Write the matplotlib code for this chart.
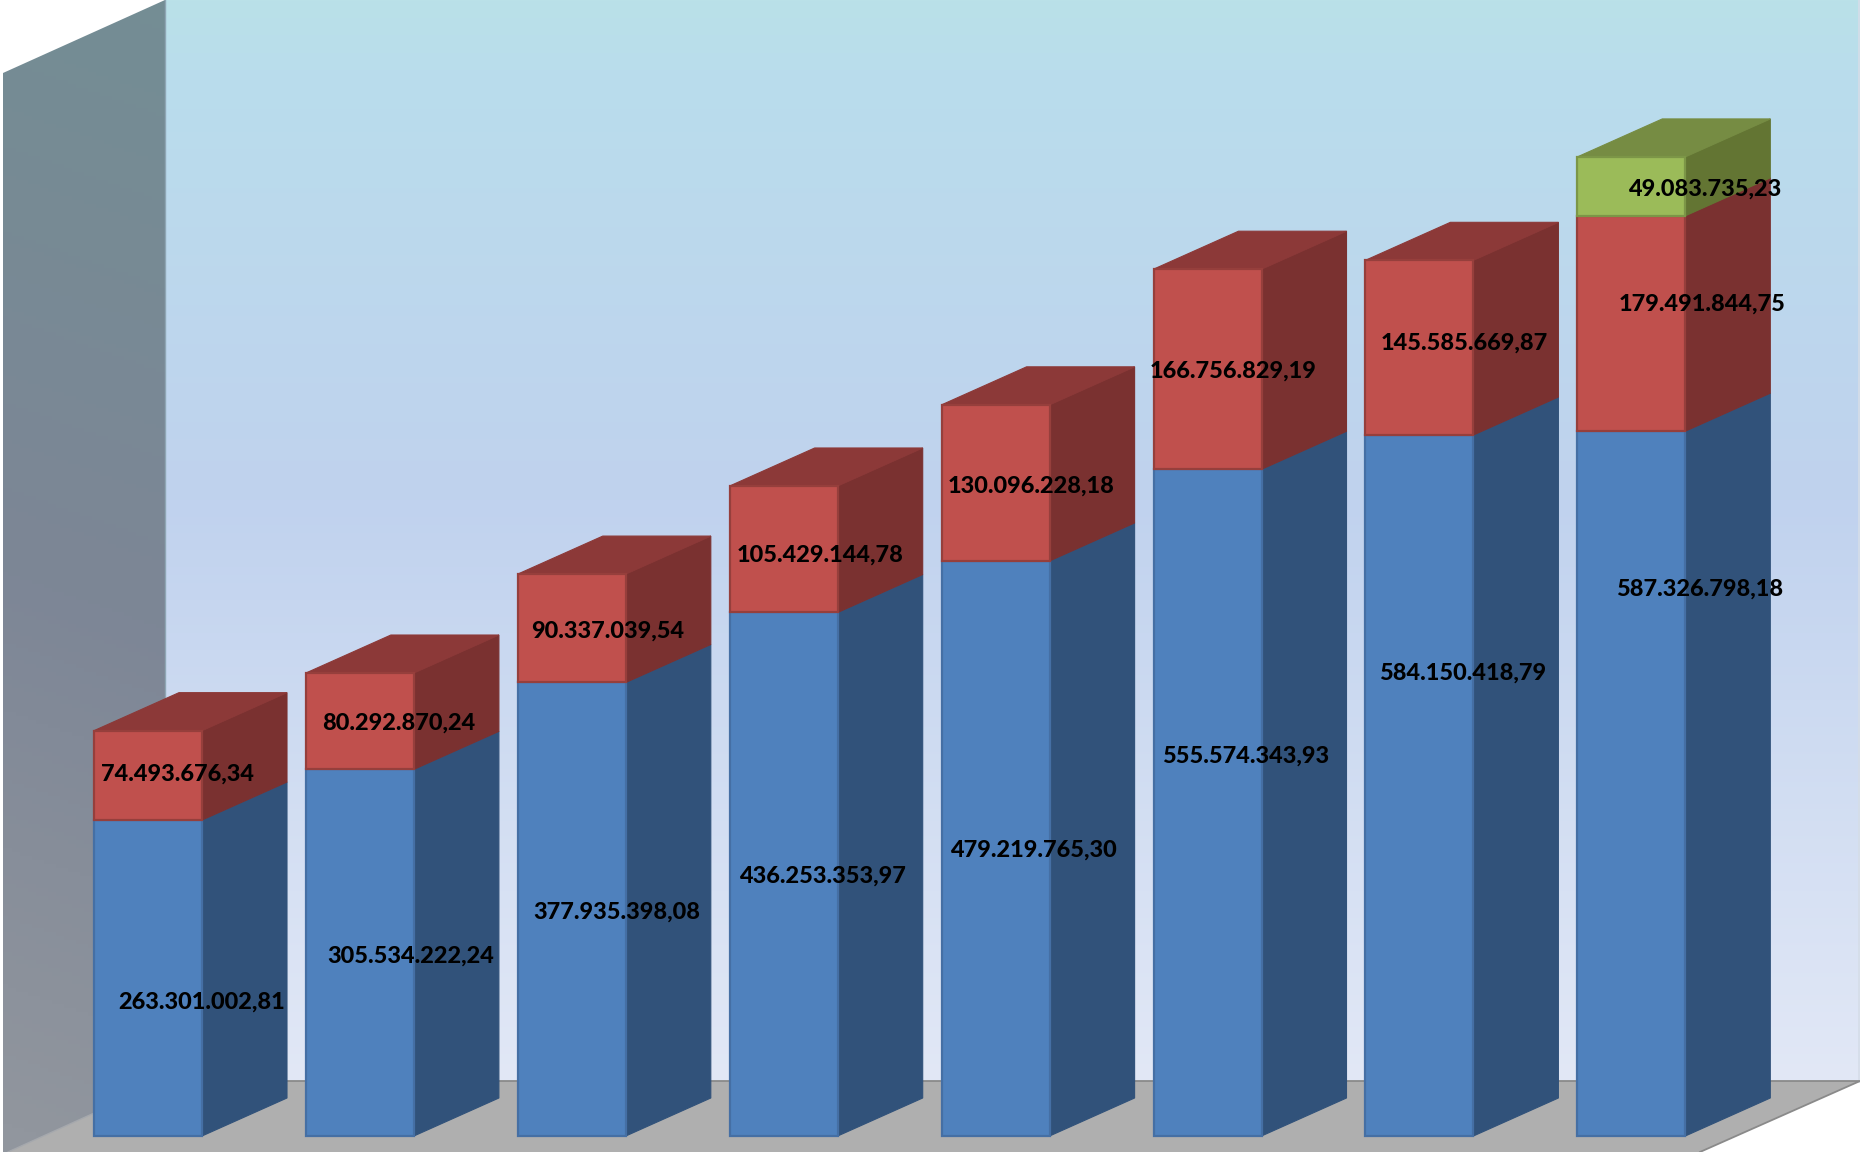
import numpy as np
import matplotlib
matplotlib.use("Agg")
import matplotlib.pyplot as plt
from matplotlib.patches import Polygon
import matplotlib.patheffects as pe

# ---- data (values as printed on the chart) ----
blue_values = [263301002.81, 305534222.24, 377935398.08, 436253353.97,
               479219765.30, 555574343.93, 584150418.79, 587326798.18]
red_values = [74493676.34, 80292870.24, 90337039.54, 105429144.78,
              130096228.18, 166756829.19, 145585669.87, 179491844.75]
green_values = [0, 0, 0, 0, 0, 0, 0, 49083735.23]

blue_labels = ["263.301.002,81", "305.534.222,24", "377.935.398,08", "436.253.353,97",
               "479.219.765,30", "555.574.343,93", "584.150.418,79", "587.326.798,18"]
red_labels = ["74.493.676,34", "80.292.870,24", "90.337.039,54", "105.429.144,78",
              "130.096.228,18", "166.756.829,19", "145.585.669,87", "179.491.844,75"]
green_labels = ["", "", "", "", "", "", "", "49.083.735,23"]

# ---- label placement offsets from segment centre, in pixels (image-down dy) ----
blue_off = [(53.7, 22), (50.5, 1), (45, 0.6), (38.3, 0), (37.6, -0.4), (38, -48.3), (43.2, -114), (68.5, -196.4)]
red_off = [(29.9, -3.1), (38.7, 0), (35.5, 0.4), (36, 3.6), (35.2, 1.1), (26.1, -0.4), (44.4, -6.1), (70.9, -21)]
green_off = [(0, 0)] * 7 + [(73.3, 1)]

# ---- layout ----
W, H = 1860, 1152
STEP = 211.9        # px between bars
C0 = 148.0          # px centre of first bar
Y0 = 1136.0         # px baseline
PX_PER_VAL = 1.2e-6 # px per unit
BAR_W = 108 / STEP
DEPTH_X = 85 / STEP
DEPTH_Y = 38 / PX_PER_VAL

fig = plt.figure(figsize=(W / 100, H / 100), dpi=100, facecolor="white")
ax = fig.add_axes([0, 0, 1, 1])
ax.set_xlim(-C0 / STEP, (W - C0) / STEP)
ax.set_ylim(-(H - Y0) / PX_PER_VAL, Y0 / PX_PER_VAL)
ax.axis("off")


def frac(pts):
    return [(x / W, 1 - y / H) for x, y in pts]


def grad(ys, cols, n=H):
    t = np.linspace(0, H, n)
    return np.stack([np.interp(t, ys, [c[i] for c in cols]) / 255 for i in range(3)], axis=-1)


# back wall
back_poly = Polygon(frac([(165, 0), (1860, 0), (1860, 1082), (165, 1082)]),
                    transform=ax.transAxes, fc="none", ec="none")
ax.add_patch(back_poly)
g = grad([0, 70, 500, 700, 1082, 1152],
         [(186, 225, 232), (185, 221, 236), (192, 210, 238), (204, 218, 241), (226, 232, 246), (226, 232, 246)])
im = ax.imshow(g[:, None, :], extent=(0, 1, 0, 1), transform=ax.transAxes, aspect="auto", zorder=1)
im.set_clip_path(back_poly)
ax.plot([1859 / W] * 2, [1 - 1082 / H, 1], transform=ax.transAxes, color="#d5dde8", lw=1.2, zorder=1.1)

# left wall (diagonal gradient)
left_pts = [(3, 73), (165, 0), (165, 1082), (8, 1152), (3, 1152)]
left_poly = Polygon(frac(left_pts), transform=ax.transAxes, fc="none", ec="none")
ax.add_patch(left_poly)
yy, xx = np.mgrid[0:H:288j, 0:W:465j]
tt = yy - 0.35 * (xx - 80)
stops = [0, 600, 1152]
cols = [(116, 141, 148), (125, 134, 150), (145, 150, 158)]
g2 = np.stack([np.interp(tt, stops, [c[i] for c in cols]) / 255 for i in range(3)], axis=-1)
im2 = ax.imshow(g2, extent=(0, 1, 0, 1), transform=ax.transAxes, aspect="auto", zorder=1)
im2.set_clip_path(left_poly)
ax.plot([165 / W] * 2, [1 - 1082 / H, 1], transform=ax.transAxes, color="#8fa6b4", lw=1, zorder=1.2)

# floor
ax.add_patch(Polygon(frac([(165, 1081), (1860, 1081), (1700, 1152), (8, 1152)]),
                     transform=ax.transAxes, fc="#AFAFAF", ec="none", zorder=1.5))
ax.plot([165 / W, 1860 / W, 1700 / W], [1 - 1081 / H, 1 - 1081 / H, 0], transform=ax.transAxes,
        color="#8a8a8a", lw=1.3, zorder=1.6)
ax.plot([165 / W, 8 / W], [1 - 1081 / H, 0], transform=ax.transAxes, color="#a5a8ad", lw=1, zorder=1.6)

series = [
    (blue_values, "#4F81BD", "#31527A", "#3A5F90", "#456FA4"),
    (red_values, "#C0504D", "#7A3130", "#8C3938", "#963F3C"),
    (green_values, "#9BBB59", "#637533", "#768C43", "#7C9647"),
]

x = np.arange(len(blue_values))
bottoms = np.zeros(len(x), dtype=float)
z = 2.0
segments = []
for vals, front, side, top, edge in series:
    vals = np.array(vals, dtype=float)
    segments.append((vals, bottoms.copy(), front, side, top, edge))
    bottoms = bottoms + vals

totals = bottoms
for i in x:
    for vals, bot, front, side, top, edge in segments:
        v, b = vals[i], bot[i]
        if v <= 0:
            continue
        l, r = i - BAR_W / 2, i + BAR_W / 2
        ax.add_patch(Polygon([(r, b), (r + DEPTH_X, b + DEPTH_Y),
                              (r + DEPTH_X, b + v + DEPTH_Y), (r, b + v)],
                             fc=side, ec=side, lw=0.8, zorder=z))
        ax.bar(i, v, width=BAR_W, bottom=b, color=front, edgecolor=edge, linewidth=1.6, zorder=z + 0.1)
        if abs(b + v - totals[i]) < 1:
            ax.add_patch(Polygon([(l, b + v), (r, b + v), (r + DEPTH_X, b + v + DEPTH_Y),
                                  (l + DEPTH_X, b + v + DEPTH_Y)],
                                 fc=top, ec=top, lw=0.8, zorder=z + 0.05))
        z += 0.2


def put_labels(vals, bot, labels, offs):
    for i, (v, b, s, (dx, dy)) in enumerate(zip(vals, bot, labels, offs)):
        if not s:
            continue
        t = ax.annotate(s, xy=(i, b + v / 2), xytext=(dx, -dy), textcoords="offset pixels",
                        ha="center", va="center_baseline", fontfamily="Lato", fontweight="black",
                        fontsize=16.9, color="black", zorder=50)


put_labels(*segments[0][:2], blue_labels, blue_off)
put_labels(*segments[1][:2], red_labels, red_off)
put_labels(*segments[2][:2], green_labels, green_off)

fig.savefig("out.png", dpi=100, facecolor="white")
